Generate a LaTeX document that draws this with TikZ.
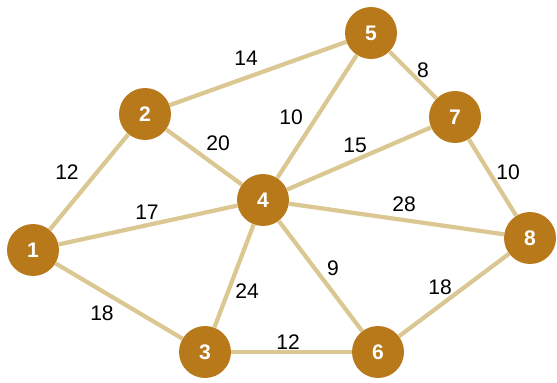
\documentclass[tikz,border=0pt]{standalone}
\usepackage{fontspec}
\setmainfont{Liberation Sans}
\usetikzlibrary{positioning}
\definecolor{nodebrown}{RGB}{184,121,26}
\definecolor{edgetan}{RGB}{219,199,146}

\begin{document}
\begin{tikzpicture}[
    x=0.02cm,
    y=-0.02cm,
    font=\normalsize,
    vert/.style={
        circle,
        fill=nodebrown,
        inner sep=0pt,
        minimum size=1.04cm,
        text=white,
        font=\bfseries\large
    },
    wt/.style={
        inner sep=1pt,
        font=\large
    },
    link/.style={draw=edgetan, line width=2.4pt}
]
\useasboundingbox (0,0) rectangle (557,382);

% vertices
\node[vert] (n1) at (33,250) {1};
\node[vert] (n2) at (145,114) {2};
\node[vert] (n3) at (205,352) {3};
\node[vert] (n4) at (263,200) {4};
\node[vert] (n5) at (371,33) {5};
\node[vert] (n6) at (378,352) {6};
\node[vert] (n7) at (455,117) {7};
\node[vert] (n8) at (530,238) {8};

% edges
\draw[link] (n1) -- (n2);
\draw[link] (n1) -- (n4);
\draw[link] (n1) -- (n3);
\draw[link] (n2) -- (n5);
\draw[link] (n2) -- (n4);
\draw[link] (n4) -- (n5);
\draw[link] (n5) -- (n7);
\draw[link] (n4) -- (n7);
\draw[link] (n4) -- (n8);
\draw[link] (n7) -- (n8);
\draw[link] (n4) -- (n3);
\draw[link] (n4) -- (n6);
\draw[link] (n3) -- (n6);
\draw[link] (n6) -- (n8);

% weights
\node[wt] (w25) at (246,58) {14};
\node[wt] (w57) at (423,70) {8};
\node[wt] (w12) at (67,172) {12};
\node[wt] (w24) at (218,143) {20};
\node[wt] (w45) at (291,117) {10};
\node[wt] (w47) at (355,145) {15};
\node[wt] (w78) at (508,172) {10};
\node[wt] (w14) at (147,212) {17};
\node[wt] (w48) at (404,204) {28};
\node[wt] (w46) at (333,268) {9};
\node[wt] (w34) at (247,291) {24};
\node[wt] (w68) at (440,287) {18};
\node[wt] (w13) at (102,313) {18};
\node[wt] (w36) at (288,342) {12};

\end{tikzpicture}
\end{document}
